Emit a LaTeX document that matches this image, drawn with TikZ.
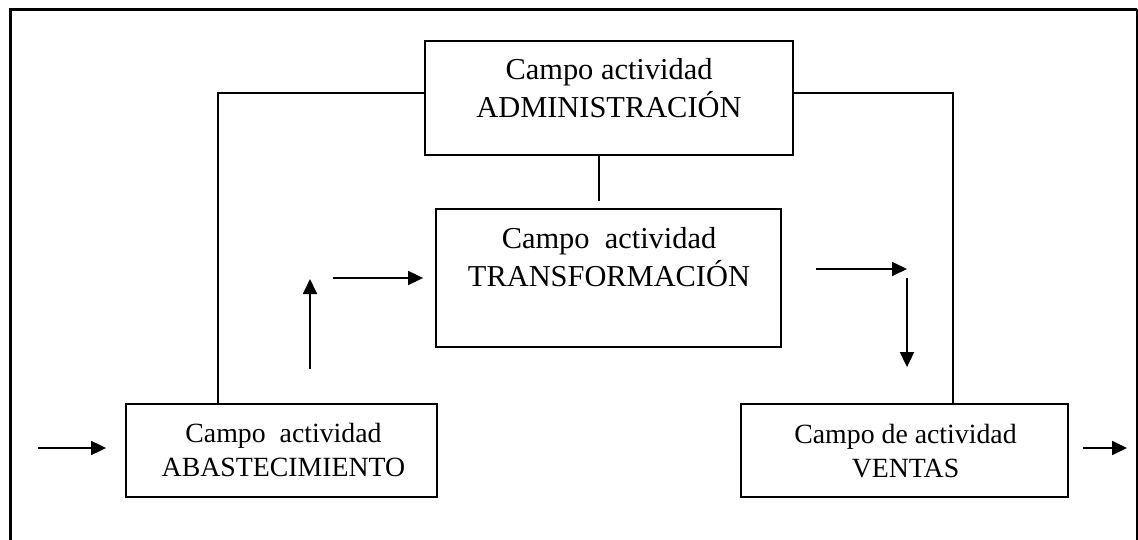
\documentclass[tikz,border=0pt]{standalone}
\usepackage{fontspec}
\setmainfont{Liberation Serif}
\usetikzlibrary{arrows.meta}
\begin{document}
\begin{tikzpicture}[x=1pt,y=-1pt,
  box/.style={draw=black, line width=1.8pt, inner sep=0pt},
  big/.style={font=\fontsize{30.4}{38}\selectfont, inner sep=0pt, anchor=base},
  small/.style={font=\fontsize{27.8}{34}\selectfont, inner sep=0pt, anchor=base},
  conn/.style={line width=1.6pt},
  arr/.style={line width=1.8pt, -{Triangle[length=15pt,width=14pt]}}]
\useasboundingbox (0,0) rectangle (1138,540);
% frame (open at bottom)
\draw[line width=3pt] (10,545) -- (10,9.5) -- (1137,9.5);
\draw[line width=1.4pt] (1137,9.5) -- (1137,545);
% boxes
\node[box, minimum width=368pt, minimum height=114pt] (adm) at (609,98) {};
\node[box, minimum width=345pt, minimum height=138pt] (trs) at (608.5,278) {};
\node[box, minimum width=311pt, minimum height=93pt] (abs) at (281.5,450.5) {};
\node[box, minimum width=327pt, minimum height=93pt] (ven) at (904.5,450.5) {};
% texts
\node[big] (adm1) at (609,80) {Campo actividad};
\node[big] (adm2) at (609,118) {ADMINISTRACIÓN};
\node[big] (trs1) at (609,249) {Campo\ \ actividad};
\node[big] (trs2) at (609,287) {TRANSFORMACIÓN};
\node[small] (abs1) at (283.5,442) {Campo\ \ actividad};
\node[small] (abs2) at (283.5,476) {ABASTECIMIENTO};
\node[small] (ven1) at (905.5,443) {Campo de actividad};
\node[small] (ven2) at (905.5,477) {VENTAS};
% connectors
\draw[conn] (adm.west |- 0,93) -| (abs.north -| 218,0);
\draw[conn] (adm.east |- 0,93) -| (ven.north -| 953,0);
\draw[conn, shorten >=7pt] (adm.south -| 599,0) -- (trs.north -| 599,0);
% arrows
\coordinate (in) at (38,448);
\coordinate (out) at (1127,448);
\coordinate (up) at (310,279);
\coordinate (r1) at (333,278);
\coordinate (r2) at (907,269);
\coordinate (d1) at (907,278);
\draw[arr, shorten >=19pt] (in) -- (abs.west |- in);
\draw[arr, shorten <=14pt] (ven.east |- out) -- (out);
\draw[arr, shorten <=34pt] (abs.north -| up) -- (up);
\draw[arr, shorten >=12pt] (r1) -- (trs.west |- r1);
\draw[arr, shorten <=34pt] (trs.east |- r2) -- (r2);
\draw[arr, shorten >=36pt] (d1) -- (ven.north -| d1);
\end{tikzpicture}
\end{document}
